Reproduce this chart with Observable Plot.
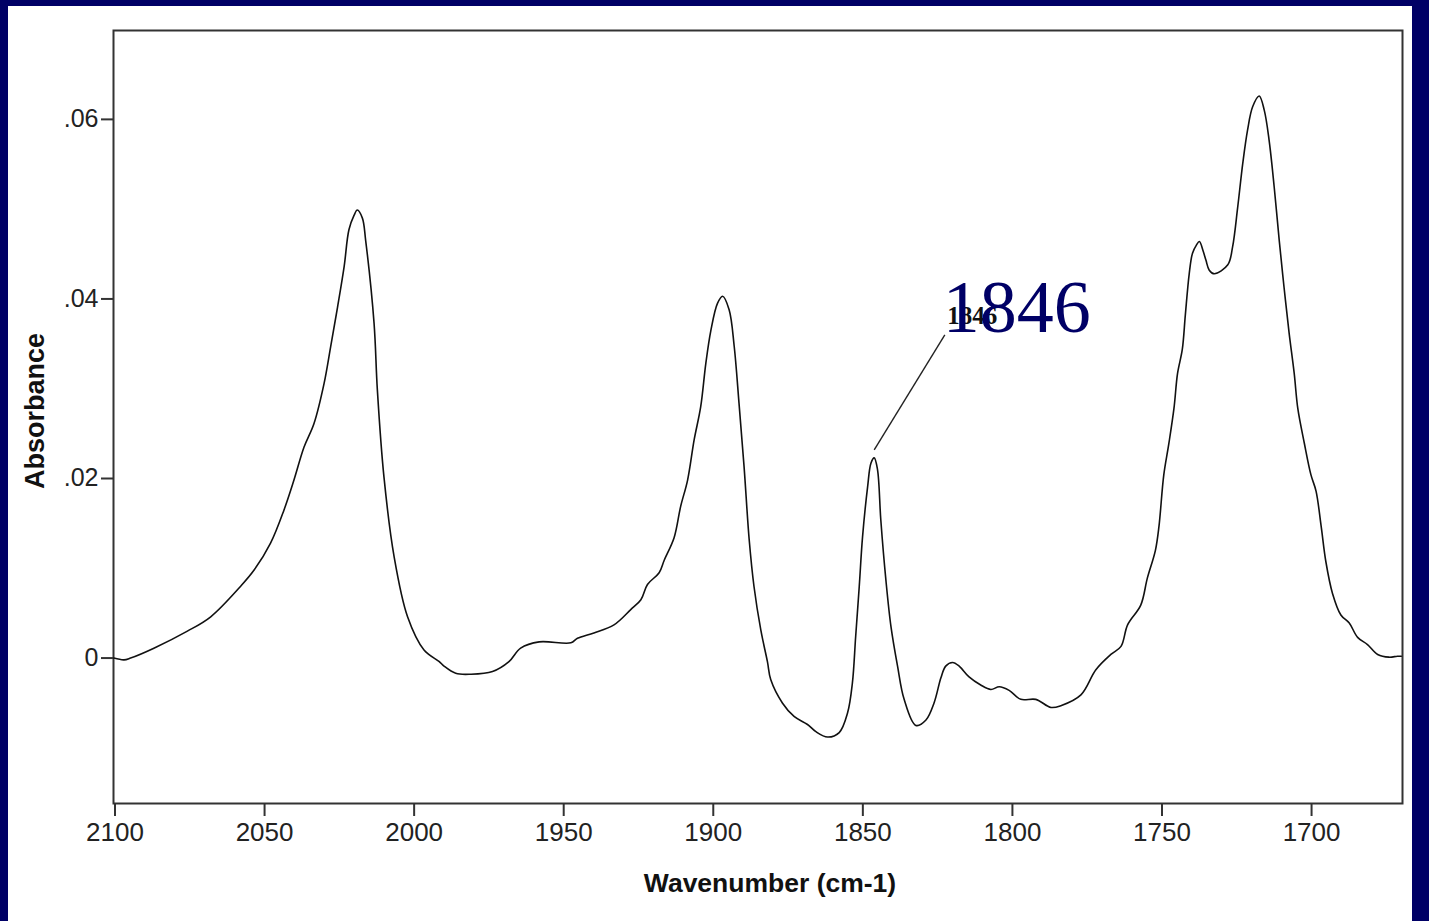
<!DOCTYPE html>
<html>
<head>
<meta charset="utf-8">
<script src="https://cdn.jsdelivr.net/npm/d3@7"></script>
<script src="https://cdn.jsdelivr.net/npm/@observablehq/plot@0.6"></script>
<style>
  html, body { margin: 0; padding: 0; background: #000066; width: 1429px; height: 921px; overflow: hidden; }
  #panel { position: absolute; left: 8px; top: 6px; width: 1404px; height: 915px; background: #ffffff; }
  #panel svg { display: block; background: #ffffff; }
</style>
</head>
<body>
<div id="panel"></div>
<script>
// ---- data ----
const wavenumber = [
  2100.4, 2097, 2094.8, 2087, 2075.8, 2068, 2058, 2053.5, 2048, 2043.5, 2040.2, 2036.8, 2033.5,
  2030.1, 2027.9, 2025.6, 2023.4, 2021.8, 2020.1, 2019, 2017.3, 2016.2, 2013.4, 2012.3, 2010.1,
  2006.7, 2002.2, 1996.7, 1991.6, 1990, 1986.1, 1981.1, 1973.8, 1968.3, 1964.4, 1958.2, 1947.6,
  1945.4, 1939.9, 1933.2, 1927.6, 1924.2, 1922, 1918.1, 1916.4, 1913.1, 1910.9, 1908.6, 1906.4,
  1904.2, 1902.5, 1900.8, 1898.6, 1896.9, 1894.7, 1893, 1891.4, 1889.7, 1888, 1886.4, 1884.1,
  1881.9, 1880.8, 1876.9, 1873, 1868.5, 1865.7, 1861.8, 1857.9, 1855.1, 1853.5, 1852.4, 1851.2,
  1850.1, 1848.4, 1847.3, 1846.2, 1845.1, 1844, 1842.3, 1840.6, 1838.4, 1836.2, 1832.3, 1828.9,
  1826.2, 1823.9, 1822.3, 1820, 1817.8, 1814.5, 1810.6, 1807.2, 1804.4, 1801.1, 1797.2, 1792.2,
  1787.1, 1783.8, 1777.1, 1772.1, 1767.1, 1763.7, 1761.5, 1757.1, 1754.9, 1752.2, 1751, 1749.4,
  1747.7, 1746, 1744.8, 1743.2, 1742.2, 1740.9, 1739.8, 1738.5, 1737.5, 1736.3, 1735.3, 1734.2,
  1732.5, 1728, 1726.4, 1724.7, 1723, 1721.4, 1719.7, 1717.5, 1715.8, 1714.2, 1712.5, 1710.8,
  1709.2, 1707.5, 1705.8, 1704.6, 1702.4, 1700.2, 1698.5, 1696.8, 1695.2, 1693, 1690.2, 1687.4,
  1684.6, 1681.3, 1677.9, 1674.1, 1671.3, 1670
];
const absorbance = [
  0.0000, -0.0002, 0.0000, 0.0011, 0.0030, 0.0046, 0.0080, 0.0098, 0.0128, 0.0165, 0.0198, 0.0235, 0.0261,
  0.0306, 0.0347, 0.0391, 0.0436, 0.0477, 0.0493, 0.0499, 0.0490, 0.0465, 0.0373, 0.0299, 0.0202,
  0.0113, 0.0046, 0.0009, -0.0004, -0.0009, -0.0017, -0.0018, -0.0015, -0.0004, 0.0011, 0.0018, 0.0017,
  0.0022, 0.0028, 0.0037, 0.0054, 0.0065, 0.0082, 0.0095, 0.0109, 0.0134, 0.0169, 0.0198, 0.0243,
  0.0280, 0.0328, 0.0365, 0.0395, 0.0403, 0.0388, 0.0347, 0.0284, 0.0213, 0.0132, 0.0080, 0.0031,
  -0.0004, -0.0024, -0.0050, -0.0065, -0.0074, -0.0082, -0.0088, -0.0083, -0.0061, -0.0028, 0.0024, 0.0080,
  0.0135, 0.0191, 0.0217, 0.0223, 0.0210, 0.0154, 0.0087, 0.0035, -0.0009, -0.0046, -0.0075, -0.0069,
  -0.0050, -0.0022, -0.0009, -0.0005, -0.0009, -0.0021, -0.0030, -0.0035, -0.0032, -0.0036, -0.0046, -0.0046,
  -0.0055, -0.0053, -0.0041, -0.0013, 0.0004, 0.0013, 0.0037, 0.0059, 0.0089, 0.0120, 0.0147, 0.0204,
  0.0239, 0.0278, 0.0317, 0.0344, 0.0382, 0.0428, 0.0451, 0.0460, 0.0464, 0.0454, 0.0443, 0.0432,
  0.0428, 0.0438, 0.0458, 0.0502, 0.0551, 0.0588, 0.0614, 0.0626, 0.0610, 0.0577, 0.0525, 0.0465,
  0.0413, 0.0362, 0.0317, 0.0278, 0.0239, 0.0204, 0.0186, 0.0147, 0.0107, 0.0072, 0.0048, 0.0039,
  0.0023, 0.0015, 0.0004, 0.0001, 0.0002, 0.0002
];
const xTicks = [2100, 2050, 2000, 1950, 1900, 1850, 1800, 1750, 1700];
const yTicks = [0, 0.02, 0.04, 0.06];
const yTickLabels = ["0", ".02", ".04", ".06"];
const xDomain = [2100.5, 1669.6];
const yDomain = [-0.0162, 0.0699];
const xTitle = "Wavenumber (cm-1)";
const yTitle = "Absorbance";
const peakLabel = "1846";
const peakAt = [1846.2, 0.0232];      // peak tip (leader line start)
const leaderEnd = [1822.6, 0.0360];   // leader line end
const smallLabelAt = [1821.8, 0.0372];
const bigLabelAt = [1823.3, 0.0363];

const spectrum = wavenumber.map((w, i) => ({w, a: absorbance[i]}));

const chart = Plot.plot({
  width: 1404,
  height: 915,
  marginLeft: 105,
  marginRight: 10,
  marginTop: 24,
  marginBottom: 118,
  style: {background: "#ffffff", fontFamily: "'Liberation Sans', Arial, sans-serif", overflow: "visible"},
  x: {domain: xDomain, axis: null},
  y: {domain: yDomain, axis: null},
  marks: [
    Plot.axisX({ticks: xTicks, tickSize: 13, tickPadding: 6, fontSize: 26, stroke: "#333", fill: "#222",
      strokeWidth: 2, tickFormat: d => String(d), label: null}),
    Plot.axisY({ticks: yTicks, tickSize: 12, tickPadding: 3, fontSize: 25, stroke: "#333", fill: "#222",
      strokeWidth: 2, tickFormat: d => yTickLabels[yTicks.indexOf(d)], label: null}),
    Plot.frame({stroke: "#333", strokeWidth: 2}),
    Plot.line(spectrum, {x: "w", y: "a", stroke: "#111", strokeWidth: 1.6, curve: "catmull-rom"}),
    Plot.link([{x1: peakAt[0], y1: peakAt[1], x2: leaderEnd[0], y2: leaderEnd[1]}],
      {x1: "x1", y1: "y1", x2: "x2", y2: "y2", stroke: "#222", strokeWidth: 1.4}),
    Plot.text([peakLabel], {x: () => smallLabelAt[0], y: () => smallLabelAt[1], text: d => d,
      textAnchor: "start", lineAnchor: "bottom", fontSize: 25, fontWeight: "bold",
      fontFamily: "'Liberation Serif', 'Times New Roman', serif", fill: "#111"}),
    Plot.text([peakLabel], {x: () => bigLabelAt[0], y: () => bigLabelAt[1], text: d => d,
      textAnchor: "start", lineAnchor: "bottom", fontSize: 74,
      fontFamily: "'Liberation Serif', 'Times New Roman', serif", fill: "#000066"}),
    Plot.text([xTitle], {frameAnchor: "bottom", dx: 12, dy: 88, text: d => d, textAnchor: "middle",
      lineAnchor: "bottom", fontSize: 26.5, fontWeight: "bold", fill: "#111"}),
    Plot.text([yTitle], {frameAnchor: "left", dx: -78, dy: -6, rotate: -90, text: d => d,
      textAnchor: "middle", lineAnchor: "middle", fontSize: 27, fontWeight: "bold", fill: "#111"})
  ]
});
document.getElementById("panel").appendChild(chart);
</script>
</body>
</html>
